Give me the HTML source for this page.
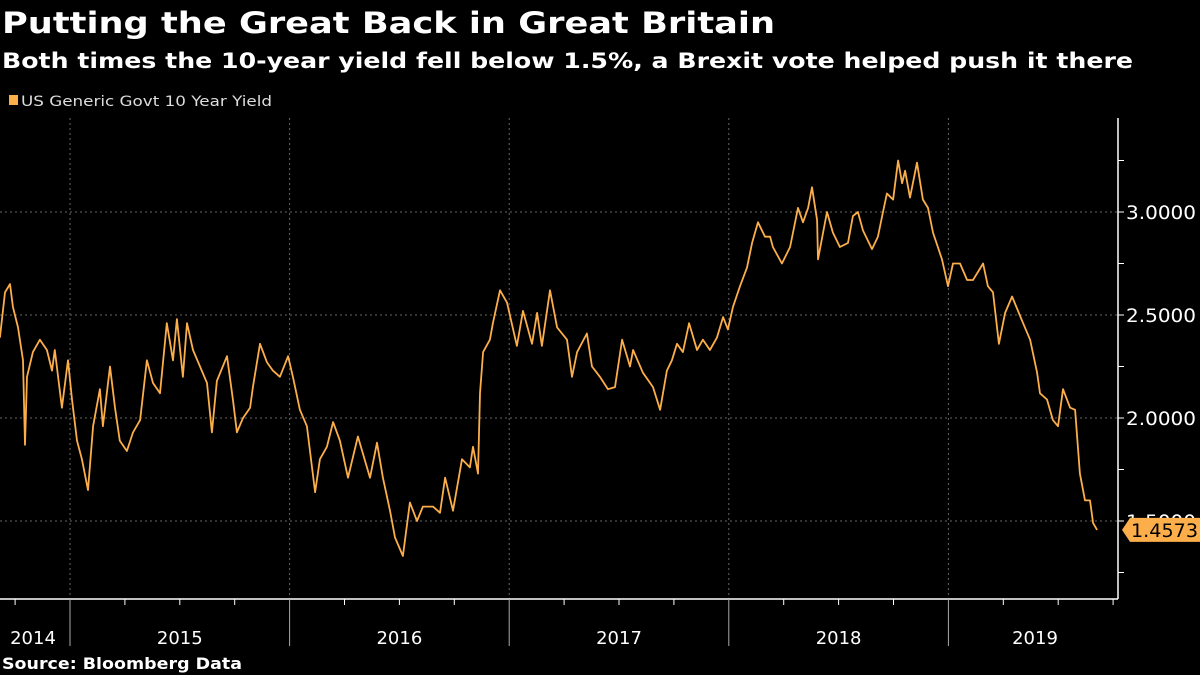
<!DOCTYPE html>
<html><head><meta charset="utf-8"><style>
body{margin:0;background:#000;width:1200px;height:675px;overflow:hidden;font-family:"DejaVu Sans","Liberation Sans",sans-serif;color:#fff}
svg{position:absolute;left:0;top:0}
</style></head><body>
<svg width="1200" height="675" font-family="DejaVu Sans, Liberation Sans, sans-serif">
<text x="2" y="33" font-size="29" font-weight="bold" fill="#fff" textLength="773" lengthAdjust="spacingAndGlyphs">Putting the Great Back in Great Britain</text>
<text x="2" y="68" font-size="21" font-weight="bold" fill="#fff" textLength="1131" lengthAdjust="spacingAndGlyphs">Both times the 10-year yield fell below 1.5%, a Brexit vote helped push it there</text>
<rect x="9" y="95" width="9" height="10" fill="#fbae4a"/>
<text x="21" y="106" font-size="14" fill="#ddd" textLength="251" lengthAdjust="spacingAndGlyphs">US Generic Govt 10 Year Yield</text>
<g id="grid"></g><g id="axes"></g><g id="series"></g>
<text x="2" y="669" font-size="16" font-weight="bold" fill="#fff" textLength="240" lengthAdjust="spacingAndGlyphs">Source: Bloomberg Data</text>
</svg>
<script>
const dates=[2014.681,2014.704,2014.727,2014.740,2014.763,2014.786,2014.795,2014.804,2014.831,2014.863,2014.895,2014.918,2014.931,2014.963,2014.991,
2015.009,2015.032,2015.054,2015.082,2015.105,2015.136,2015.150,2015.182,2015.205,2015.227,2015.259,2015.287,2015.319,2015.350,2015.378,2015.410,2015.441,2015.469,2015.487,2015.514,2015.533,2015.560,2015.592,2015.624,2015.646,2015.669,2015.715,2015.742,2015.760,2015.788,2015.820,2015.833,2015.865,2015.897,2015.924,2015.956,2015.993,
2016.015,2016.047,2016.079,2016.116,2016.138,2016.170,2016.198,2016.229,2016.266,2016.311,2016.366,2016.398,2016.425,2016.457,2016.480,2016.516,2016.548,2016.580,2016.607,2016.653,2016.685,2016.708,2016.744,2016.785,2016.821,2016.835,2016.858,2016.867,2016.881,2016.912,2016.926,2016.958,2016.990,
2017.035,2017.063,2017.104,2017.127,2017.149,2017.186,2017.218,2017.263,2017.286,2017.309,2017.354,2017.377,2017.413,2017.450,2017.482,2017.514,2017.550,2017.564,2017.609,2017.655,2017.687,2017.718,2017.741,2017.764,2017.791,2017.819,2017.855,2017.882,2017.914,2017.946,2017.974,2017.996,
2018.019,2018.051,2018.083,2018.106,2018.133,2018.165,2018.188,2018.201,2018.242,2018.279,2018.315,2018.338,2018.361,2018.379,2018.402,2018.406,2018.447,2018.474,2018.506,2018.543,2018.565,2018.588,2018.611,2018.652,2018.679,2018.702,2018.720,2018.748,2018.771,2018.789,2018.803,2018.825,2018.857,2018.884,2018.907,2018.930,2018.971,2018.998,
2019.021,2019.053,2019.085,2019.112,2019.158,2019.180,2019.203,2019.230,2019.258,2019.290,2019.317,2019.340,2019.372,2019.404,2019.417,2019.449,2019.476,2019.499,2019.522,2019.554,2019.577,2019.599,2019.622,2019.645,2019.659,2019.677];
const yields=[2.39,2.61,2.65,2.54,2.44,2.28,1.87,2.20,2.32,2.38,2.33,2.23,2.33,2.05,2.28,
2.09,1.89,1.80,1.65,1.96,2.14,1.96,2.25,2.05,1.89,1.84,1.93,1.99,2.28,2.17,2.12,2.46,2.28,2.48,2.20,2.46,2.33,2.25,2.17,1.93,2.18,2.30,2.09,1.93,2.00,2.05,2.15,2.36,2.27,2.23,2.20,2.30,
2.20,2.04,1.96,1.64,1.80,1.86,1.98,1.89,1.71,1.91,1.71,1.88,1.71,1.55,1.42,1.33,1.59,1.50,1.57,1.57,1.54,1.71,1.55,1.80,1.76,1.86,1.73,2.12,2.32,2.38,2.46,2.62,2.56,
2.35,2.52,2.36,2.51,2.35,2.62,2.44,2.38,2.20,2.32,2.41,2.25,2.20,2.14,2.15,2.38,2.25,2.33,2.22,2.15,2.04,2.23,2.28,2.36,2.32,2.46,2.33,2.38,2.33,2.39,2.49,2.43,
2.54,2.64,2.73,2.85,2.95,2.88,2.88,2.83,2.75,2.83,3.02,2.95,3.02,3.12,2.96,2.77,3.00,2.90,2.83,2.85,2.98,3.00,2.91,2.82,2.88,3.00,3.09,3.06,3.25,3.14,3.20,3.07,3.24,3.06,3.02,2.90,2.77,2.64,
2.75,2.75,2.67,2.67,2.75,2.64,2.61,2.36,2.51,2.59,2.52,2.46,2.38,2.22,2.12,2.09,1.99,1.96,2.14,2.05,2.04,1.73,1.60,1.60,1.49,1.457];
const yTicks=[3.0,2.5,2.0,1.5];
const minorTicks=[3.25,2.75,2.25,1.75,1.25];
const years=[2014,2015,2016,2017,2018,2019];
const lastValue="1.4573";
const NS="http://www.w3.org/2000/svg";
const X=t=>70+(t-2015)*219.6;
const Y=v=>212+(3-v)*206;
const grid=document.getElementById('grid'),axes=document.getElementById('axes'),ser=document.getElementById('series');
function mk(tag,attrs,parent){const e=document.createElementNS(NS,tag);for(const k in attrs)e.setAttribute(k,attrs[k]);parent.appendChild(e);return e;}
yTicks.forEach(v=>{
 const l=mk('line',{x1:0,x2:1118,y1:Y(v),y2:Y(v),stroke:'#666','stroke-dasharray':'2,3','stroke-width':1},grid);
 
 
 const tk=mk('line',{x1:1118,x2:1124,y1:Y(v),y2:Y(v),stroke:'#fff'},axes);
 
 
 const t=mk('text',{x:1126,y:Y(v)+7,'font-size':19,fill:'#fff',textLength:70,lengthAdjust:'spacingAndGlyphs'},axes);t.textContent=v.toFixed(4);
 
 
});
minorTicks.forEach(v=>{const tk=mk('line',{x1:1118,x2:1124,y1:Y(v),y2:Y(v),stroke:'#fff'},axes);
 
 });
const ax=mk('line',{x1:1118,x2:1118,y1:118,y2:599,stroke:'#fff','stroke-width':1.5},axes);


const bx=mk('line',{x1:0,x2:1118,y1:599,y2:599,stroke:'#fff','stroke-width':1.5},axes);


years.forEach(y=>{
 const x0=X(y);
 if(y>2014){
  const g=mk('line',{x1:x0,x2:x0,y1:118,y2:599,stroke:'#666','stroke-dasharray':'2,3'},grid);
  
  
  const tk=mk('line',{x1:x0,x2:x0,y1:599,y2:646,stroke:'#aaa'},axes);
  
  
 }
 [0.25,0.5,0.75].forEach(q=>{const xx=X(y+q);if(xx>0&&xx<1118){const m=mk('line',{x1:xx,x2:xx,y1:599,y2:605,stroke:'#fff'},axes);
  
  }});
 const cx=y===2014?33:(y===2019?1035:X(y+0.5));
 const t=mk('text',{x:cx,y:644,'font-size':18,fill:'#fff','text-anchor':'middle'},axes);t.textContent=String(y);
 
 
});
const p=mk('path',{d:dates.map((d,i)=>(i?'L':'M')+X(d).toFixed(1)+','+Y(yields[i]).toFixed(1)).join(''),fill:'none',stroke:'#fbae4a','stroke-width':1.8,'stroke-linejoin':'round'},ser);


const ly=Y(yields[yields.length-1]);
const tag=mk('path',{d:`M1122,${ly} L1130,${ly-12} L1200,${ly-12} L1200,${ly+12} L1130,${ly+12} Z`,fill:'#fbae4a'},axes);


const lt=mk('text',{x:1131,y:ly+7,'font-size':19,fill:'#000',textLength:67,lengthAdjust:'spacingAndGlyphs'},axes);lt.textContent=lastValue;


</script>
</body></html>
